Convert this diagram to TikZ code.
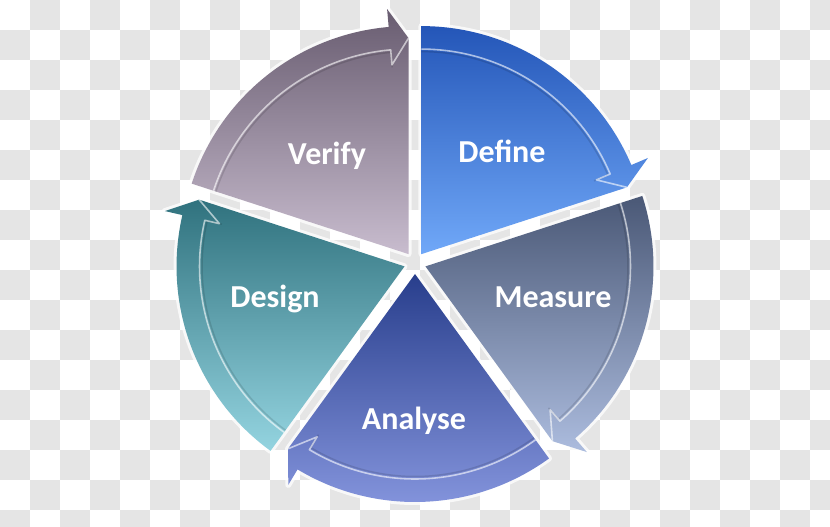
\documentclass[tikz,border=0pt]{standalone}
\usepackage{fontspec}
\setmainfont{Carlito}

\definecolor{checkgray}{RGB}{229,229,229}
\definecolor{verifytop}{RGB}{104,92,112}
\definecolor{verifybot}{RGB}{200,188,206}
\definecolor{definetop}{RGB}{36,86,184}
\definecolor{definebot}{RGB}{112,168,248}
\definecolor{measuretop}{RGB}{74,88,118}
\definecolor{measurebot}{RGB}{172,188,222}
\definecolor{analysetop}{RGB}{40,62,140}
\definecolor{analysebot}{RGB}{136,152,224}
\definecolor{designtop}{RGB}{48,114,126}
\definecolor{designbot}{RGB}{148,212,224}

\begin{document}
\begin{tikzpicture}[x=1pt,y=1pt,
    phase/.style={text=white,font=\fontsize{32}{38}\selectfont\bfseries,anchor=base},
    glow/.style={draw=white,line width=6pt,opacity=.75,line join=round},
    rim/.style={draw=white,line width=1.6pt,opacity=.6,line join=round},
    rimshade/.style={draw=black,line width=1.5pt,opacity=.12,line join=round}]
  \useasboundingbox (0,0) rectangle (830,527);
  % checkered background
  \foreach \i in {0,...,27}
    \foreach \j in {0,...,17}{
      \pgfmathtruncatemacro\odd{mod(\i+\j,2)}
      \ifnum\odd=1
        \fill[checkgray] (30*\i,527-30*\j) rectangle ++(30,-30);
      \fi}
  % five phases, clockwise from the top
  \foreach \s/\col/\txt/\lx/\ly in {90/define/Define/502/364,
      18/measure/Measure/553/219, -54/analyse/Analyse/414/97,
      -126/design/Design/275/219, 162/verify/Verify/327/362}{
    \begin{scope}[shift={(415,264)},shift={(\s-36:11)}]
      \path[glow] (0,0) -- (\s:228) arc[start angle=\s,end angle=\s-67,radius=228]
        -- (\s-67:246) -- (\s-72:216) -- cycle;
      \shade[top color=\col top,bottom color=\col bot] (0,0) -- (\s:228)
        arc[start angle=\s,end angle=\s-67,radius=228]
        -- (\s-67:246) -- (\s-72:216) -- cycle;
      \draw[rimshade] (\s:202.5) arc[start angle=\s,end angle=\s-67,radius=202.5]
        -- (\s-67:187.5);
      \draw[rim] (\s:205) arc[start angle=\s,end angle=\s-67,radius=205]
        -- (\s-67:190) -- (\s-72:216);
    \end{scope}
    \node[phase] (\col) at (\lx,\ly) {\txt};
  }
\end{tikzpicture}
\end{document}
